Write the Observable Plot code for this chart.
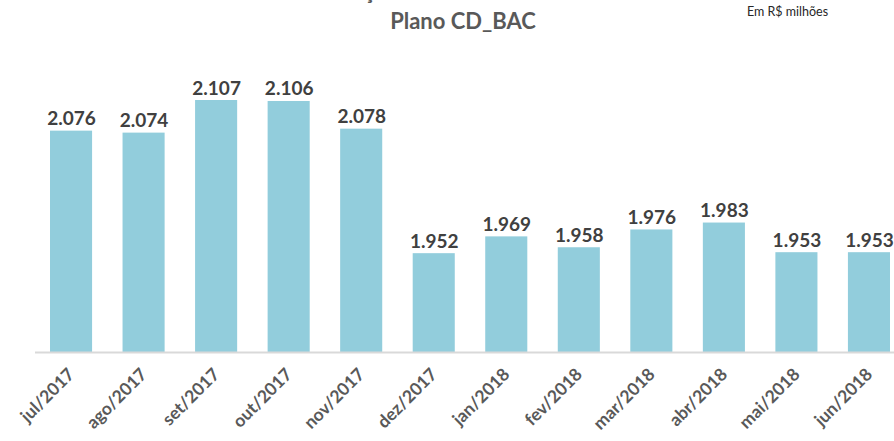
<!DOCTYPE html>
<html>
<head>
<meta charset="utf-8">
<script src="https://cdn.jsdelivr.net/npm/d3@7"></script>
<script src="https://cdn.jsdelivr.net/npm/@observablehq/plot@0.6"></script>
<style>
  body { margin: 0; background: #fff; font-family: Lato, "Open Sans", sans-serif; }
  #wrap { width: 894px; height: 441px; overflow: hidden; position: relative; }
  #title { height: 40px; position: relative; overflow: hidden; }
  #title .t { position: absolute; left: 0; width: 926px; text-align: center; font-weight: bold; font-size: 22px; color: #595959; white-space: nowrap; }
  #unit { position: absolute; left: 747px; top: 4px; font-size: 12.5px; color: #262626; }
</style>
</head>
<body>
<div id="wrap">
  <div id="title">
    <div class="t" style="top:-23px">Evolução do Patrimônio - Plano</div>
    <div class="t" style="top:7px">Plano CD_BAC</div>
    <div id="unit">Em R$ milhões</div>
  </div>
  <div id="chart"></div>
</div>
<script>
const months = ["jul/2017","ago/2017","set/2017","out/2017","nov/2017","dez/2017","jan/2018","fev/2018","mar/2018","abr/2018","mai/2018","jun/2018"];
const values = [2076, 2074, 2107, 2106, 2078, 1952, 1969, 1958, 1976, 1983, 1953, 1953];

const data = months.map((m, i) => ({month: m, value: values[i]}));
const fmt = v => d3.format(",")(v).replace(/,/g, ".");

const chart = Plot.plot({
  width: 894,
  height: 401,
  marginLeft: 35,
  marginRight: 0,
  marginTop: 0,
  marginBottom: 89,
  style: {fontFamily: "Lato, 'Open Sans', sans-serif", background: "#fff"},
  x: {domain: months, range: [35.5, 904.5], round: false, paddingInner: 0.42, paddingOuter: 0.2, label: null},
  y: {domain: [1852, 2107], range: [312, 60], axis: null},
  marks: [
    Plot.barY(data, {x: "month", y1: 1852, y2: "value", fill: "#92CDDC"}),
    Plot.ruleY([1852], {stroke: "#d9d9d9", strokeWidth: 2}),
    Plot.text(data, {x: "month", y: "value", text: d => fmt(d.value), lineAnchor: "bottom", dy: -6, fontSize: 19, fontWeight: "bold", fill: "#404040"}),
    Plot.axisX({tickSize: 0, tickRotate: -45, tickPadding: 19, fontSize: 17.5, fontWeight: "bold", fill: "#595959", label: null})
  ]
});
document.getElementById("chart").appendChild(chart);
</script>
</body>
</html>
